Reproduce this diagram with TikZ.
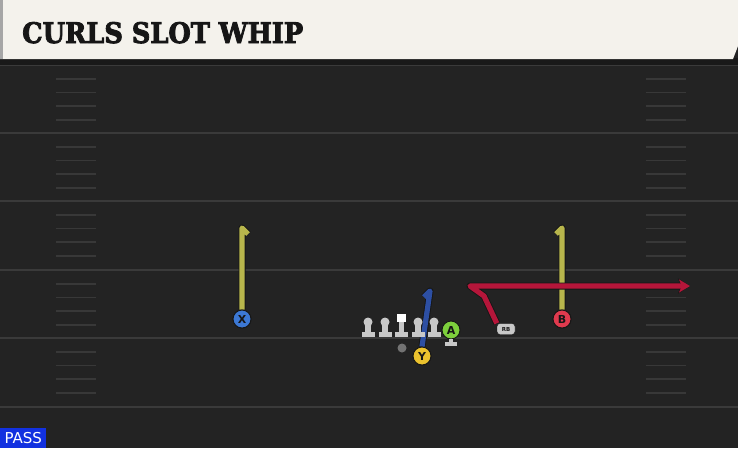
\documentclass[tikz,border=0pt]{standalone}
\usepackage{fontspec}
\usetikzlibrary{arrows.meta}
\newfontfamily\titlefont{DejaVu Serif}[FakeBold=3]
\newfontfamily\labelfont{DejaVu Sans}
\definecolor{bg}{HTML}{232323}
\definecolor{yardline}{HTML}{3A3A3A}
\definecolor{hashc}{HTML}{383838}
\definecolor{cream}{HTML}{F4F2EC}
\definecolor{routeY}{HTML}{B8B64C}
\definecolor{routeR}{HTML}{B5163A}
\definecolor{routeB}{HTML}{2D4FA3}
\definecolor{pX}{HTML}{3C78D4}
\definecolor{pB}{HTML}{E03A4E}
\definecolor{pY}{HTML}{EBC22E}
\definecolor{pA}{HTML}{7DCF3C}
\definecolor{linegray}{HTML}{C8C8C8}
\definecolor{passblue}{HTML}{1231E0}
\definecolor{ink}{HTML}{161616}
\tikzset{
  player/.style={circle, minimum size=18pt, inner sep=0pt, draw=ink, line width=0.9pt,
    font=\labelfont\bfseries\fontsize{11}{11}\selectfont, text=ink},
  routeline/.style={line width=5.2pt, line join=round},
  routeedge/.style={line width=7pt, draw=ink, line join=round},
  yardstyle/.style={draw=yardline, line width=2pt},
  hashstyle/.style={draw=hashc, line width=1.8pt},
  standstyle/.style={fill=linegray}
}
\begin{document}
\begin{tikzpicture}[x=1pt,y=-1pt]
\useasboundingbox (0,0) rectangle (738,448);
\fill[bg] (0,0) rectangle (738,448);
% yard lines
\foreach \yy in {65,133,201,270,338,407}{
  \draw[yardstyle] (0,\yy) -- (738,\yy);
}
% hash marks
\foreach \base in {65,133,201,270,338}{
  \foreach \k in {1,2,3,4}{
    \draw[hashstyle] (56,\base+13.7*\k) -- (96,\base+13.7*\k);
    \draw[hashstyle] (646,\base+13.7*\k) -- (686,\base+13.7*\k);
  }
}
% header
\fill[black!90] (0,58) rectangle (738,65);
\fill[cream] (0,0) -- (738,0) -- (738,46) -- (733,59) -- (0,59) -- cycle;
\fill[black!35] (0,0) rectangle (3,59);
\node[anchor=base west, inner sep=0pt, text=ink] (title) at (22,43)
  {\resizebox{281pt}{21pt}{\titlefont\bfseries CURLS SLOT WHIP}};
% players
\node[player, fill=pX] (X) at (242,319) {X};
\node[player, fill=pB] (B) at (562,319) {B};
\node[player, fill=pY] (Y) at (422,356) {Y};
\node[player, fill=pA] (A) at (451,330) {A};
\node[draw=ink, fill=linegray, rounded corners=3pt, minimum width=18pt, minimum height=11pt, inner sep=0pt,
  font=\labelfont\bfseries\fontsize{5.5}{5.5}\selectfont, text=ink] (RB) at (506,329) {RB};
\node[circle, fill=black!55, minimum size=9pt, inner sep=0pt] (QB) at (402,348) {};
% route turn points
\coordinate (xtop) at (242,228);
\coordinate (xhook) at (248,234);
\coordinate (btop) at (562,228);
\coordinate (bhook) at (556,234);
\coordinate (ytop) at (430,291);
\coordinate (yhook) at (424,297);
\coordinate (rb1) at (484,296);
\coordinate (rb2) at (470,286);
\coordinate (rbend) at (690,286);
% X curl
\draw[routeedge] (X.north) -- (xtop) -- (xhook);
\draw[routeline, routeY] (X.north) -- (xtop) -- (xhook);
% B curl
\draw[routeedge] (B.north) -- (btop) -- (bhook);
\draw[routeline, routeY] (B.north) -- (btop) -- (bhook);
% RB whip
\draw[routeedge, -{Stealth[length=12pt,width=15pt,inset=3pt]}] (RB.north west) -- (rb1) -- (rb2) -- (rbend);
\draw[routeline, routeR, -{Stealth[length=11pt,width=13pt,inset=3pt]}] (RB.north west) -- (rb1) -- (rb2) -- (rbend);
% Y route
\draw[routeedge] (Y.north) -- (ytop) -- (yhook);
\draw[routeline, routeB] (Y.north) -- (ytop) -- (yhook);
\node[player, fill=pY] (Y2) at (Y) {Y};
\node[player, fill=pB] (B2) at (B) {B};
\node[player, fill=pX] (X2) at (X) {X};
% linemen
\foreach \lx in {368,385,418,434}{
  \fill[standstyle] (\lx,322) circle (4.5);
  \fill[standstyle] (\lx-2.8,322) rectangle (\lx+2.8,333);
  \fill[standstyle] (\lx-6.5,332) rectangle (\lx+6.5,337);
}
\fill[white] (397,313.5) rectangle (405.5,322);
\fill[standstyle] (398.5,322) rectangle (404,333);
\fill[standstyle] (394.8,332) rectangle (407.8,337);
% stand under A
\fill[standstyle] (449,339) rectangle (453,343);
\fill[standstyle] (445,342) rectangle (457,346);
% PASS tag
\node[fill=passblue, text=white, anchor=south west, minimum width=46pt, minimum height=20pt, inner sep=0pt,
  font=\labelfont\fontsize{15}{15}\selectfont] (pass) at (0,448) {PASS};
\end{tikzpicture}
\end{document}
